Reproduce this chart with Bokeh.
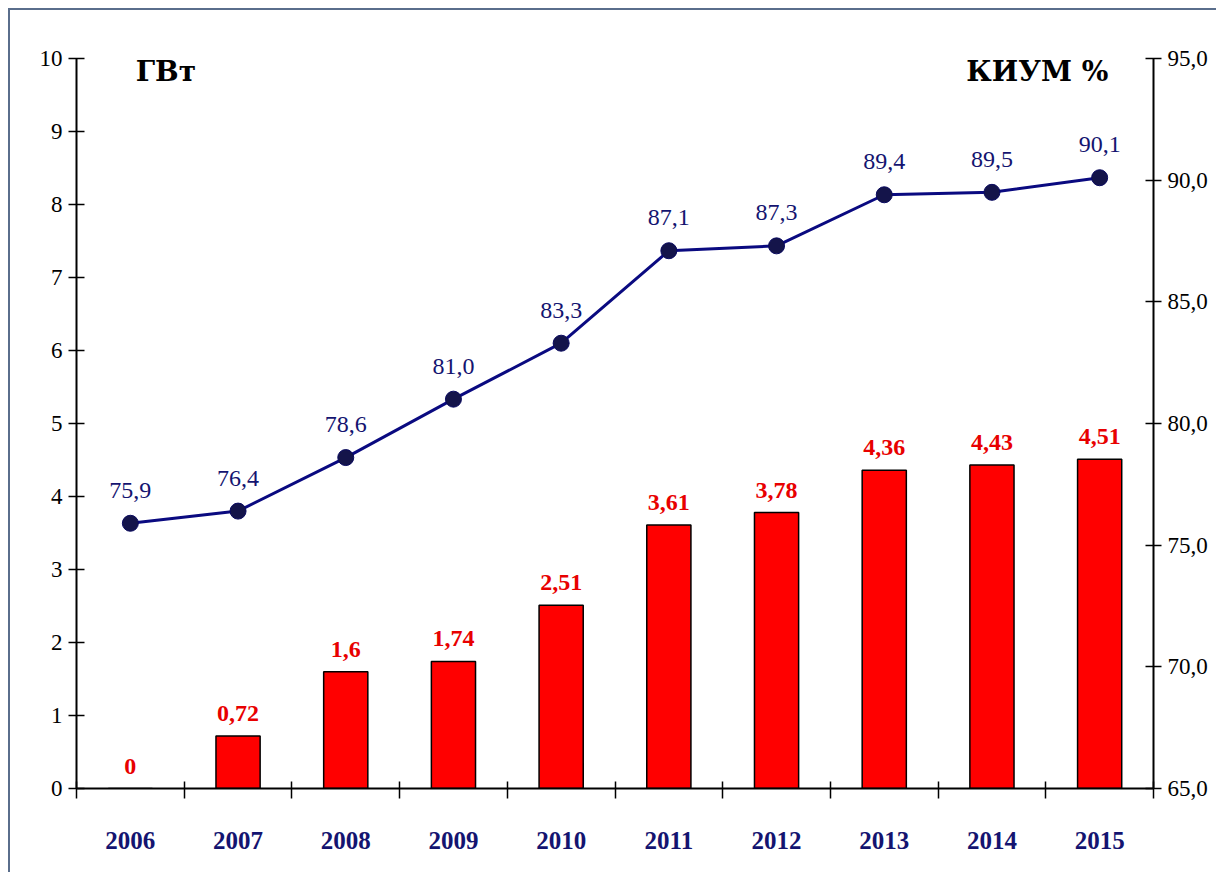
from bokeh.plotting import figure
from bokeh.models import ColumnDataSource, Range1d, LinearAxis, FixedTicker
from bokeh.core.properties import value
from bokeh.embed import file_html
from bokeh.resources import INLINE
import numpy as np

years = ["2006", "2007", "2008", "2009", "2010", "2011", "2012", "2013", "2014", "2015"]
capacity_gw = [0, 0.72, 1.6, 1.74, 2.51, 3.61, 3.78, 4.36, 4.43, 4.51]
kium_pct = [75.9, 76.4, 78.6, 81.0, 83.3, 87.1, 87.3, 89.4, 89.5, 90.1]
left_ticks = list(range(0, 11))
right_ticks = [65, 70, 75, 80, 85, 90, 95]

FONT = "Liberation Serif"
CYR_FONT = "DejaVu Serif"
NAVY = "#141470"
RED = "#e80000"

x = np.arange(len(years)) + 0.5

src = ColumnDataSource(dict(
    x=x,
    cap=capacity_gw,
    kium=kium_pct,
    cap_lbl=[("%g" % v).replace(".", ",") for v in capacity_gw],
    kium_lbl=[("%.1f" % v).replace(".", ",") for v in kium_pct],
))

p = figure(width=1208, height=864, output_backend="svg", toolbar_location=None,
           x_range=Range1d(0, len(years)), y_range=Range1d(0, 10),
           min_border_left=66, min_border_right=65, min_border_top=48, min_border_bottom=86)
p.outline_line_color = None
p.xgrid.visible = False
p.ygrid.visible = False
p.background_fill_color = "white"
p.border_fill_color = "white"
p.styles = {"border-top": "2px solid #5a6e8c", "border-left": "2px solid #5a6e8c",
            "margin-left": "8px", "margin-top": "8px"}

# bars
p.vbar(x="x", top="cap", width=0.41, source=src, fill_color="#ff0000",
       line_color="black", line_width=1.5)
p.text(x="x", y="cap", text="cap_lbl", source=src, text_align="center",
       text_baseline="bottom", y_offset=-15, text_color=RED,
       text_font=value(FONT), text_font_size="24px", text_font_style="bold")

# line on right axis
p.extra_y_ranges = {"kium": Range1d(65, 95)}
p.line(x="x", y="kium", source=src, y_range_name="kium", line_color="#0a0a80", line_width=3)
p.scatter(x="x", y="kium", source=src, y_range_name="kium", size=16,
          fill_color="#14144a", line_color="#0a0a60", line_width=1)
p.text(x="x", y="kium", text="kium_lbl", source=src, y_range_name="kium",
       text_align="center", text_baseline="middle", y_offset=-33, text_color=NAVY,
       text_font=value(FONT), text_font_size="24px")

# x axis
xa = p.xaxis[0]
xa.ticker = FixedTicker(ticks=list(x), minor_ticks=list(range(0, len(years) + 1)))
xa.major_label_overrides = {float(xx): y for xx, y in zip(x, years)}
xa.major_tick_in = 0
xa.major_tick_out = 0
xa.minor_tick_in = 7
xa.minor_tick_out = 10
xa.minor_tick_line_color = "black"
xa.minor_tick_line_width = 1.5
xa.axis_line_width = 2
xa.axis_line_color = "black"
xa.major_label_standoff = 33
xa.major_label_text_font = FONT
xa.major_label_text_font_size = "25px"
xa.major_label_text_font_style = "bold"
xa.major_label_text_color = NAVY

# left axis
ya = p.yaxis[0]
ya.ticker = FixedTicker(ticks=left_ticks)
ya.major_tick_in = 8
ya.major_tick_out = 8
ya.major_tick_line_width = 1.5
ya.minor_tick_line_color = None
ya.axis_line_width = 2
ya.major_label_standoff = 6
ya.major_label_text_font = FONT
ya.major_label_text_font_size = "23px"
ya.major_label_text_color = "black"

# right axis
ra = LinearAxis(y_range_name="kium", ticker=FixedTicker(ticks=right_ticks))
ra.major_label_overrides = {t: ("%.1f" % t).replace(".", ",") for t in right_ticks}
ra.major_tick_in = 8
ra.major_tick_out = 8
ra.major_tick_line_width = 1.5
ra.minor_tick_line_color = None
ra.axis_line_width = 2
ra.major_label_standoff = 6
ra.major_label_text_font = FONT
ra.major_label_text_font_size = "23px"
ra.major_label_text_color = "black"
p.add_layout(ra, "right")

# unit titles
p.text(x=[0.55], y=[9.82], text=["ГВт"], text_font=value(CYR_FONT), text_font_size="28px",
       text_font_style="bold", text_color="black", text_baseline="middle", text_align="left")
p.text(x=[9.58], y=[9.82], text=["КИУМ %"], text_font=value(CYR_FONT), text_font_size="28px",
       text_font_style="bold", text_color="black", text_baseline="middle", text_align="right")

open("out.html", "w").write(file_html(p, INLINE))
